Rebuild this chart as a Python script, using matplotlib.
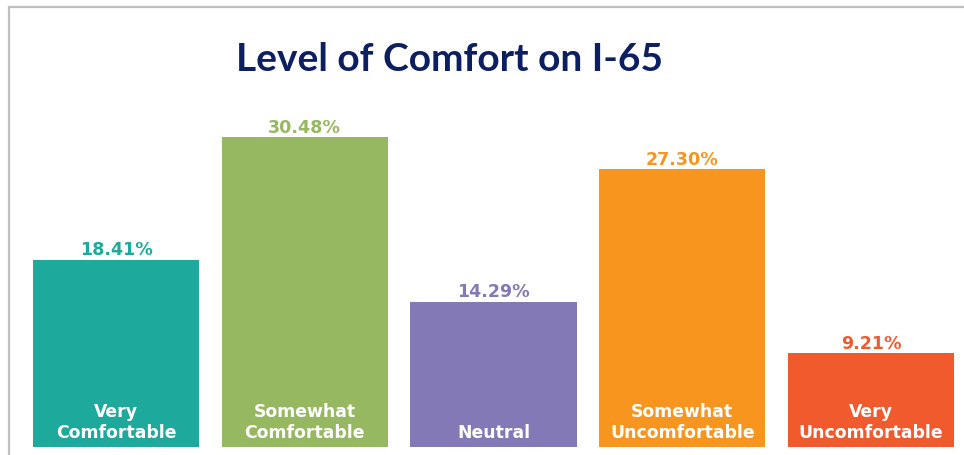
import matplotlib
matplotlib.use("Agg")
import matplotlib.pyplot as plt
from matplotlib.lines import Line2D

categories = ["Very\nComfortable", "Somewhat\nComfortable", "Neutral",
              "Somewhat\nUncomfortable", "Very\nUncomfortable"]
values = [18.41, 30.48, 14.29, 27.30, 9.21]
value_labels = ["18.41%", "30.48%", "14.29%", "27.30%", "9.21%"]
colors = ["#1DA99C", "#95B860", "#8379B7", "#F7951F", "#F05A2D"]
title = "Level of Comfort on I-65"

W, H = 964, 456
fig = plt.figure(figsize=(W / 100, H / 100), dpi=100)
fig.patch.set_facecolor("white")

ax = fig.add_axes([0, 8 / H, 1, 448 / H])
ax.set_xlim(-116 / 188.75, (W - 116) / 188.75)
ax.set_ylim(0, 448 / 10.17)
ax.axis("off")

x = list(range(len(values)))
ax.bar(x, values, width=0.88, color=colors, edgecolor="none")

for xi, v, lab, c, cat in zip(x, values, value_labels, colors, categories):
    ax.annotate(lab, xy=(xi, v), xytext=(0, 5.5), textcoords="offset pixels",
                ha="center", va="baseline", fontsize=12.6, fontweight="bold",
                color=c, family="DejaVu Sans")
    ax.annotate(cat, xy=(xi, 0), xytext=(0, 6), textcoords="offset pixels",
                ha="center", va="bottom", fontsize=12.4, fontweight="bold",
                color="white", family="DejaVu Sans", linespacing=1.22)

fig.text(449 / W, 1 - 71 / H, title, ha="center", va="baseline",
         fontsize=28, fontweight="bold", color="#0D1F63", family="Lato")

# frame lines (gray border at top and left)
fig.add_artist(Line2D([8.5 / W, 8.5 / W], [0, 1 - 7 / H], color="#BFBFBF",
                      linewidth=1.6, transform=fig.transFigure,
                      solid_capstyle="butt"))
fig.add_artist(Line2D([8 / W, 1], [1 - 7.5 / H, 1 - 7.5 / H], color="#BFBFBF",
                      linewidth=1.6, transform=fig.transFigure,
                      solid_capstyle="butt"))

fig.savefig("out.png", dpi=100, facecolor="white")
